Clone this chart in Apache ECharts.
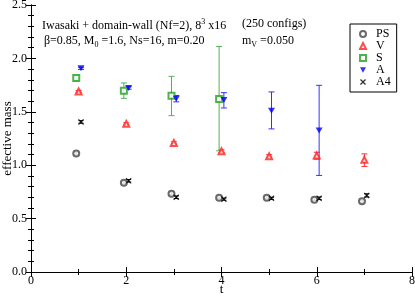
<!DOCTYPE html>
<html>
<head>
<meta charset="utf-8">
<script src="https://cdn.jsdelivr.net/npm/echarts@6/dist/echarts.min.js"></script>
<style>html,body{margin:0;padding:0;background:#fff;}#c{width:415px;height:296px;}</style>
</head>
<body>
<div id="c"></div>
<script>
// ---- data ----
var tPS = [1, 2, 3, 4, 5, 6, 7];
var PS = [1.11, 0.835, 0.733, 0.695, 0.695, 0.677, 0.663];
var PSerr = [0.01, 0.01, 0.01, 0.008, 0.008, 0.008, 0.01];
var tA4 = [1, 2, 3, 4, 5, 6, 7];
var A4 = [1.405, 0.854, 0.70, 0.682, 0.69, 0.69, 0.717];
var A4err = [0.012, 0.012, 0.012, 0.01, 0.01, 0.012, 0.015];
var tV = [1, 2, 3, 4, 5, 6, 7];
var V = [1.69, 1.387, 1.209, 1.131, 1.084, 1.09, 1.05];
var Vlo = [1.68, 1.377, 1.199, 1.118, 1.07, 1.056, 0.988];
var Vhi = [1.70, 1.397, 1.219, 1.144, 1.098, 1.121, 1.106];
var tS = [1, 2, 3, 4];
var S = [1.817, 1.698, 1.651, 1.62];
var Slo = [1.792, 1.626, 1.464, 1.135];
var Shi = [1.842, 1.77, 1.832, 2.112];
var tA = [1, 2, 3, 4, 5, 6];
var A = [1.907, 1.723, 1.623, 1.611, 1.511, 1.324];
var Alo = [1.897, 1.711, 1.593, 1.536, 1.34, 0.904];
var Ahi = [1.917, 1.735, 1.653, 1.679, 1.686, 1.748];
var xTicks = [0, 2, 4, 6, 8];
var yTicks = [0.0, 0.5, 1.0, 1.5, 2.0, 2.5];

var FONT = 'Liberation Serif';
function pts(t, v, off) { return t.map(function (x, i) { return [x + off, v[i]]; }); }
function errs(t, lo, hi, off) { return t.map(function (x, i) { return [x + off, lo[i], hi[i]]; }); }
function errSym(t, v, e, off) { return t.map(function (x, i) { return [x + off, v[i] - e[i], v[i] + e[i]]; }); }

function errRender(color, cap) {
  return function (params, api) {
    var x = api.value(0), lo = api.value(1), hi = api.value(2);
    var p1 = api.coord([x, hi]), p2 = api.coord([x, lo]);
    var st = { stroke: color, lineWidth: 1 };
    return { type: 'group', children: [
      { type: 'line', shape: { x1: p1[0], y1: p1[1], x2: p2[0], y2: p2[1] }, style: st },
      { type: 'line', shape: { x1: p1[0] - cap, y1: p1[1], x2: p1[0] + cap, y2: p1[1] }, style: st },
      { type: 'line', shape: { x1: p2[0] - cap, y1: p2[1], x2: p2[0] + cap, y2: p2[1] }, style: st }
    ] };
  };
}
function errSeries(data, color, cap) {
  return { type: 'custom', renderItem: errRender(color, cap), data: data, z: 2, silent: true,
    encode: { x: 0, y: [1, 2] } };
}

var downTri = 'path://M0,0 L10,0 L5,9 Z';
var xMark = 'path://M0,1.5 L1.5,0 L5,3.5 L8.5,0 L10,1.5 L6.5,5 L10,8.5 L8.5,10 L5,6.5 L1.5,10 L0,8.5 L3.5,5 Z';

var axisCommon = {
  axisLine: { lineStyle: { color: '#000', width: 1 } },
  axisTick: { inside: true, length: 5, lineStyle: { color: '#000' } },
  splitLine: { show: false }
};

var chart = echarts.init(document.getElementById('c'));
chart.setOption({
  animation: false,
  backgroundColor: '#fff',
  textStyle: { fontFamily: FONT },
  grid: { left: 31, right: 3, top: 5, bottom: 24, containLabel: false, outerBoundsMode: 'none' },
  xAxis: [
    Object.assign({ type: 'value', min: xTicks[0], max: xTicks[xTicks.length - 1], interval: 2,
      name: 't', nameLocation: 'middle', nameGap: 11, nameMoveOverlap: false,
      nameTextStyle: { fontFamily: FONT, fontSize: 13, color: '#000' },
      axisLabel: { fontFamily: FONT, fontSize: 12, color: '#000', margin: 3 } }, axisCommon,
      { minorTick: { show: true, splitNumber: 2, length: 3, lineStyle: { color: '#000' } } }),
    Object.assign({ type: 'value', position: 'top', min: 0, max: 8, interval: 2,
      axisLabel: { show: false } }, axisCommon,
      { minorTick: { show: true, splitNumber: 2, length: 3, lineStyle: { color: '#000' } } })
  ],
  yAxis: [
    Object.assign({ type: 'value', min: yTicks[0], max: yTicks[yTicks.length - 1], interval: 0.5,
      name: 'effective mass', nameLocation: 'middle', nameGap: 17, nameMoveOverlap: false,
      nameTextStyle: { fontFamily: FONT, fontSize: 13, color: '#000' },
      axisLabel: { fontFamily: FONT, fontSize: 12, color: '#000', margin: 4,
        formatter: function (v) { return v.toFixed(1); } } }, axisCommon,
      { minorTick: { show: true, splitNumber: 5, length: 3, lineStyle: { color: '#000' } } }),
    Object.assign({ type: 'value', position: 'right', min: 0, max: 2.5, interval: 0.5,
      axisLabel: { show: false } }, axisCommon,
      { minorTick: { show: true, splitNumber: 5, length: 3, lineStyle: { color: '#000' } } })
  ],
  legend: {
    data: ['PS', 'V', 'S', 'A', 'A4'],
    orient: 'vertical', left: 350, top: 24,
    itemWidth: 6, itemHeight: 6, itemGap: 0,
    padding: [4, 6, 4, 9],
    borderColor: '#000', borderWidth: 1, borderRadius: 0,
    textStyle: { fontFamily: FONT, fontSize: 12, lineHeight: 10, height: 10, color: '#000', padding: [0, 0, 0, 5] }
  },
  graphic: [
    { type: 'text', left: 42, top: 18, style: {
      text: 'Iwasaki + domain-wall (Nf=2), 8{sup|3} x16',
      rich: { sup: { fontSize: 8, verticalAlign: 'top', padding: [0, 0, 7, 0], fontFamily: FONT } },
      font: '12px ' + FONT, fill: '#000' } },
    { type: 'text', left: 44, top: 35, style: {
      text: '\u03b2=0.85, M{sub|0} =1.6, Ns=16, m=0.20',
      rich: { sub: { fontSize: 8, padding: [7, 0, 0, 0], fontFamily: FONT } },
      font: '12px ' + FONT, fill: '#000' } },
    { type: 'text', left: 242, top: 18, style: {
      text: '(250 configs)', font: '12px ' + FONT, fill: '#000' } },
    { type: 'text', left: 242, top: 35, style: {
      text: 'm{sub|V} =0.050',
      rich: { sub: { fontSize: 8, padding: [7, 0, 0, 0], fontFamily: FONT } },
      font: '12px ' + FONT, fill: '#000' } }
  ],
  series: [
    errSeries(errSym(tPS, PS, PSerr, -0.05), '#444', 2),
    errSeries(errSym(tA4, A4, A4err, 0.05), '#000', 2.5),
    errSeries(errs(tV, Vlo, Vhi, 0), '#ff3333', 3),
    errSeries(errs(tS, Slo, Shi, -0.05), '#55b055', 3),
    errSeries(errs(tA, Alo, Ahi, 0.05), '#3333ff', 3),
    { name: 'PS', type: 'scatter', data: pts(tPS, PS, -0.05), symbol: 'emptyCircle', symbolSize: 6,
      itemStyle: { color: '#444', borderWidth: 1 }, z: 3 },
    { name: 'V', type: 'scatter', data: pts(tV, V, 0), symbol: 'emptyTriangle', symbolSize: 6,
      itemStyle: { color: '#ff2020', borderWidth: 1 }, z: 3 },
    { name: 'S', type: 'scatter', data: pts(tS, S, -0.05), symbol: 'emptyRect', symbolSize: 6,
      itemStyle: { color: '#22a022', borderWidth: 1 }, z: 3 },
    { name: 'A', type: 'scatter', data: pts(tA, A, 0.05), symbol: downTri, symbolSize: [7, 6],
      itemStyle: { color: '#0000ff' }, z: 3 },
    { name: 'A4', type: 'scatter', data: pts(tA4, A4, 0.05), symbol: xMark, symbolSize: 6,
      itemStyle: { color: '#000' }, z: 3 }
  ]
});
</script>
</body>
</html>
